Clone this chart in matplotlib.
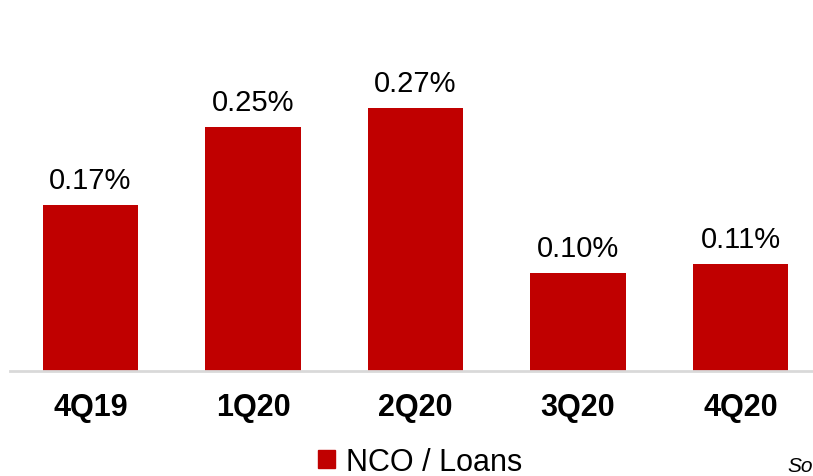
import matplotlib.pyplot as plt
from matplotlib.patches import Patch

quarters = ["4Q19", "1Q20", "2Q20", "3Q20", "4Q20"]
nco_loans = [0.17, 0.25, 0.27, 0.10, 0.11]

plt.rcParams['font.family'] = ['Liberation Sans', 'DejaVu Sans']

fig = plt.figure(figsize=(8.13, 4.77), dpi=100)
ax = fig.add_axes([10 / 813, 105 / 477, 803 / 813, 372 / 477])

x = range(len(quarters))
bars = ax.bar(x, nco_loans, width=0.585, color="#C00000")

for rect, v in zip(bars, nco_loans):
    ax.annotate(f"{v:.2f}%", (rect.get_x() + rect.get_width() / 2, v),
                xytext=(0, 8), textcoords="offset points",
                ha="center", va="bottom", fontsize=21)

ax.set_xlim(-0.495, 4.446)
ax.set_ylim(0, 0.3815)
ax.set_xticks(list(x))
ax.set_xticklabels(quarters, fontsize=22, fontweight="bold")
ax.tick_params(axis="x", length=0, pad=15)
ax.set_yticks([])
for side in ["top", "right", "left"]:
    ax.spines[side].set_visible(False)
ax.spines["bottom"].set_color("#D9D9D9")
ax.spines["bottom"].set_linewidth(2)

fig.legend(handles=[Patch(color="#C00000", label="NCO / Loans")],
           loc="center", bbox_to_anchor=(420 / 813, 1 - 463 / 477),
           frameon=False, fontsize=22, handlelength=0.55, handleheight=0.5,
           handletextpad=0.35, borderpad=0, borderaxespad=0)

fig.text(787 / 813, 1 - 472 / 477, "So", fontsize=15, style="italic",
         ha="left", va="baseline")

fig.savefig("out.png", dpi=100)
